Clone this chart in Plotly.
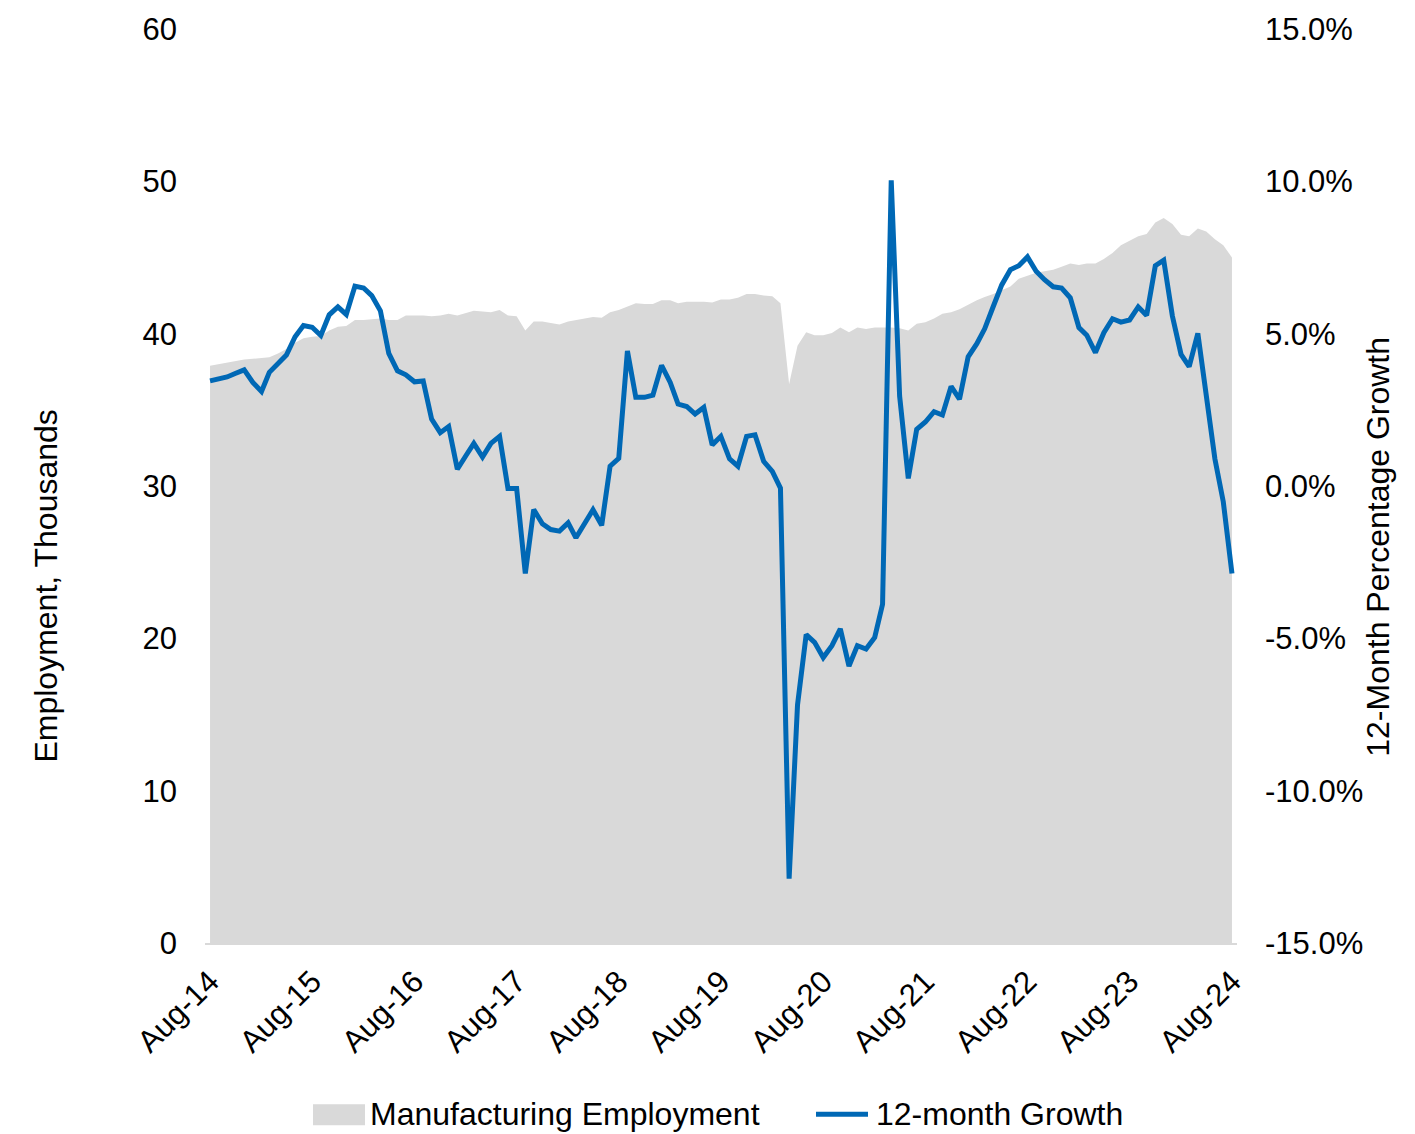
import plotly.graph_objects as go
import pandas as pd

months = pd.date_range("2014-08-01", "2024-08-01", freq="MS")

employment = [
    37.9, 38.0, 38.1, 38.2, 38.3, 38.35, 38.4, 38.45, 38.7, 39.0,
    39.4, 39.7, 39.8, 39.85, 40.2, 40.45, 40.5, 40.9, 40.9, 40.95,
    41.0, 40.9, 40.9, 41.2, 41.2, 41.2, 41.15, 41.2, 41.3, 41.2,
    41.35, 41.5, 41.45, 41.4, 41.55, 41.2, 41.15, 40.2, 40.8, 40.8,
    40.7, 40.6, 40.8, 40.9, 41.0, 41.1, 41.05, 41.4, 41.55, 41.8,
    42.0, 41.95, 41.95, 42.2, 42.2, 42.0, 42.1, 42.1, 42.1, 42.05,
    42.25, 42.25, 42.35, 42.6, 42.6, 42.5, 42.45, 42.0, 36.7, 39.2,
    40.1, 39.9, 39.9, 40.05, 40.4, 40.1, 40.4, 40.3, 40.4, 40.4,
    40.4, 40.35, 40.2, 40.65, 40.75, 41.0, 41.3, 41.4, 41.6, 41.9,
    42.2, 42.4, 42.6, 42.85, 43.1, 43.6, 43.8, 44.0, 44.1, 44.2,
    44.4, 44.6, 44.5, 44.6, 44.6, 44.9, 45.3, 45.8, 46.1, 46.4,
    46.55, 47.3, 47.6, 47.2, 46.5, 46.4, 46.9, 46.7, 46.2, 45.8,
    45.0,
]

growth_pct = [
    3.45, 3.52, 3.58, 3.7, 3.81, 3.4, 3.10, 3.73, 4.05, 4.3,
    4.9, 5.27, 5.21, 4.94, 5.62, 5.88, 5.63, 6.56, 6.50, 6.25,
    5.75, 4.35, 3.78, 3.65, 3.42, 3.45, 2.2, 1.75, 1.95, 0.55,
    1.0, 1.4, 0.95, 1.4, 1.63, -0.08, -0.08, -2.87, -0.77, -1.24,
    -1.43, -1.48, -1.21, -1.70, -1.23, -0.78, -1.29, 0.65, 0.91, 4.43,
    2.91, 2.91, 2.98, 3.96, 3.40, 2.69, 2.61, 2.36, 2.58, 1.35,
    1.63, 0.89, 0.65, 1.63, 1.68, 0.81, 0.48, -0.07, -12.89, -7.19,
    -4.88, -5.13, -5.63, -5.24, -4.69, -5.91, -5.24, -5.35, -4.97, -3.88,
    10.03, 2.95, 0.25, 1.86, 2.10, 2.44, 2.33, 3.27, 2.85, 4.24,
    4.67, 5.16, 5.90, 6.60, 7.10, 7.23, 7.52, 7.05, 6.77, 6.54,
    6.50, 6.18, 5.20, 4.95, 4.38, 5.03, 5.49, 5.38, 5.45, 5.88,
    5.60, 7.23, 7.41, 5.58, 4.32, 3.92, 5.01, 2.96, 0.89, -0.52,
    -2.87,
]
growth = [v / 100 for v in growth_pct]

left_ticks = [0, 10, 20, 30, 40, 50, 60]
right_ticks = [-0.15, -0.10, -0.05, 0.0, 0.05, 0.10, 0.15]
right_ticklabels = ["-15.0%", "-10.0%", "-5.0%", "0.0%", "5.0%", "10.0%", "15.0%"]

FONT = "Liberation Sans, Arial, sans-serif"
FS = 31
FS_TEXT = 32
GRAY = "#d9d9d9"
BLUE = "#0068b5"

# plot-area geometry (pixels) used to place the custom legend
L, R, T, B = 205, 178, 25, 191
W, H = 1415, 1134
PW, PH = W - L - R, H - T - B


def px(x):
    return (x - L) / PW


def py(y):
    return (H - B - y) / PH


fig = go.Figure()
fig.add_trace(go.Scatter(
    x=months, y=employment, name="Manufacturing Employment",
    mode="lines", fill="tozeroy", fillcolor=GRAY,
    line=dict(width=0, color=GRAY), yaxis="y", showlegend=False,
))
fig.add_trace(go.Scatter(
    x=months, y=growth, name="12-month Growth",
    mode="lines", line=dict(width=5, color=BLUE), yaxis="y2",
    showlegend=False,
))

shapes = [
    dict(type="rect", xref="paper", yref="paper",
         x0=px(313), x1=px(365), y0=py(1126), y1=py(1105),
         fillcolor=GRAY, line=dict(width=0)),
    dict(type="line", xref="paper", yref="paper",
         x0=px(816), x1=px(868), y0=py(1115), y1=py(1115),
         line=dict(color=BLUE, width=5)),
]

annotations = [
    dict(text="Employment, Thousands", xref="paper", yref="paper",
         x=px(46), y=py(585), xanchor="center", yanchor="middle",
         textangle=-90, showarrow=False, font=dict(size=FS_TEXT)),
    dict(text="12-Month Percentage Growth", xref="paper", yref="paper",
         x=px(1378), y=py(545), xanchor="center", yanchor="middle",
         textangle=-90, showarrow=False, font=dict(size=FS_TEXT)),
    dict(text="Manufacturing Employment", xref="paper", yref="paper",
         x=px(368), y=py(1115), xanchor="left", yanchor="middle",
         showarrow=False, font=dict(size=FS_TEXT)),
    dict(text="12-month Growth", xref="paper", yref="paper",
         x=px(874), y=py(1115), xanchor="left", yanchor="middle",
         showarrow=False, font=dict(size=FS_TEXT)),
]

fig.update_layout(
    width=W, height=H,
    margin=dict(l=L, r=R, t=T, b=B),
    paper_bgcolor="white", plot_bgcolor="white",
    font=dict(family=FONT, size=FS, color="black"),
    showlegend=False,
    xaxis=dict(
        type="date", range=["2014-07-14", "2024-08-19"],
        tick0="2014-08-01", dtick="M12", tickformat="%b-%y",
        tickangle=-45, showgrid=False, zeroline=False,
        showline=True, linecolor=GRAY, linewidth=2,
        ticks="", tickfont=dict(size=FS), ticklabelstandoff=6,
    ),
    yaxis=dict(
        range=[0, 60], tickvals=left_ticks, showgrid=False,
        zeroline=False, showline=False, ticks="",
        tickfont=dict(size=FS), ticklabelstandoff=27,
    ),
    yaxis2=dict(
        range=[-0.15, 0.15], tickvals=right_ticks, ticktext=right_ticklabels,
        overlaying="y", side="right", showgrid=False, zeroline=False,
        showline=False, ticks="", tickfont=dict(size=FS),
        ticklabelstandoff=27,
    ),
    shapes=shapes,
    annotations=annotations,
)

fig.write_html("out.html")
